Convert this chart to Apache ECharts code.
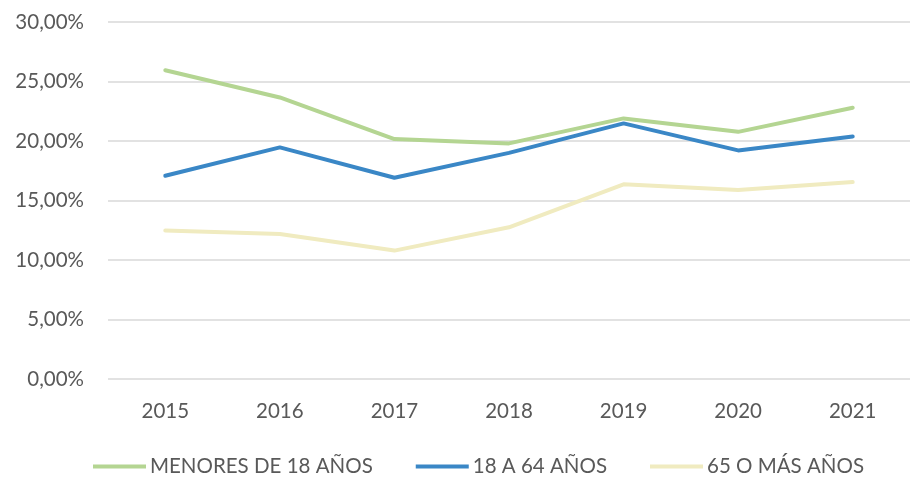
<!DOCTYPE html>
<html>
<head>
<meta charset="utf-8">
<script src="https://cdn.jsdelivr.net/npm/echarts@6/dist/echarts.min.js"></script>
<style>
  html, body { margin: 0; padding: 0; background: #fff; }
  #chart { width: 910px; height: 479px; }
</style>
</head>
<body>
<div id="chart"></div>
<script>
// datos
var years = ['2015', '2016', '2017', '2018', '2019', '2020', '2021'];
var menores = [25.95, 23.66, 20.16, 19.8, 21.9, 20.77, 22.8];
var adultos = [17.08, 19.46, 16.91, 19.0, 21.48, 19.21, 20.38];
var mayores = [12.47, 12.19, 10.79, 12.75, 16.36, 15.88, 16.55];

var txt = '#595959';
var fam = 'Lato, "Open Sans", sans-serif';
var fs = 20.5;

function pct(v) {
    return v.toFixed(2).replace('.', ',') + '%';
}

var chart = echarts.init(document.getElementById('chart'));

chart.setOption({
    animation: false,
    grid: { left: 108, top: 22, width: 812, height: 357 },
    legend: {
        top: 456,
        left: 93,
        icon: 'rect',
        itemWidth: 53,
        itemHeight: 4,
        itemGap: 43,
        padding: 0,
        textStyle: { color: txt, fontSize: fs, fontFamily: fam, padding: [0, 0, 0, -1] },
        data: ['MENORES DE 18 AÑOS', '18 A 64 AÑOS', '65 O MÁS AÑOS']
    },
    xAxis: {
        type: 'category',
        data: years,
        axisLine: { show: false },
        axisTick: { show: false },
        axisLabel: { color: txt, fontSize: fs, fontFamily: fam, margin: 22 }
    },
    yAxis: {
        type: 'value',
        min: 0,
        max: 30,
        interval: 5,
        axisLabel: { color: txt, fontSize: fs, fontFamily: fam, margin: 24, formatter: pct },
        splitLine: { lineStyle: { color: '#d9d9d9', width: 1.5 } }
    },
    series: [
        {
            name: 'MENORES DE 18 AÑOS', type: 'line', data: menores,
            symbol: 'none', color: '#b4d592',
            lineStyle: { width: 4, cap: 'round' }
        },
        {
            name: '18 A 64 AÑOS', type: 'line', data: adultos,
            symbol: 'none', color: '#3a87c6',
            lineStyle: { width: 4, cap: 'round' }
        },
        {
            name: '65 O MÁS AÑOS', type: 'line', data: mayores,
            symbol: 'none', color: '#f0ebc0',
            lineStyle: { width: 4, cap: 'round' }
        }
    ]
});
</script>
</body>
</html>
